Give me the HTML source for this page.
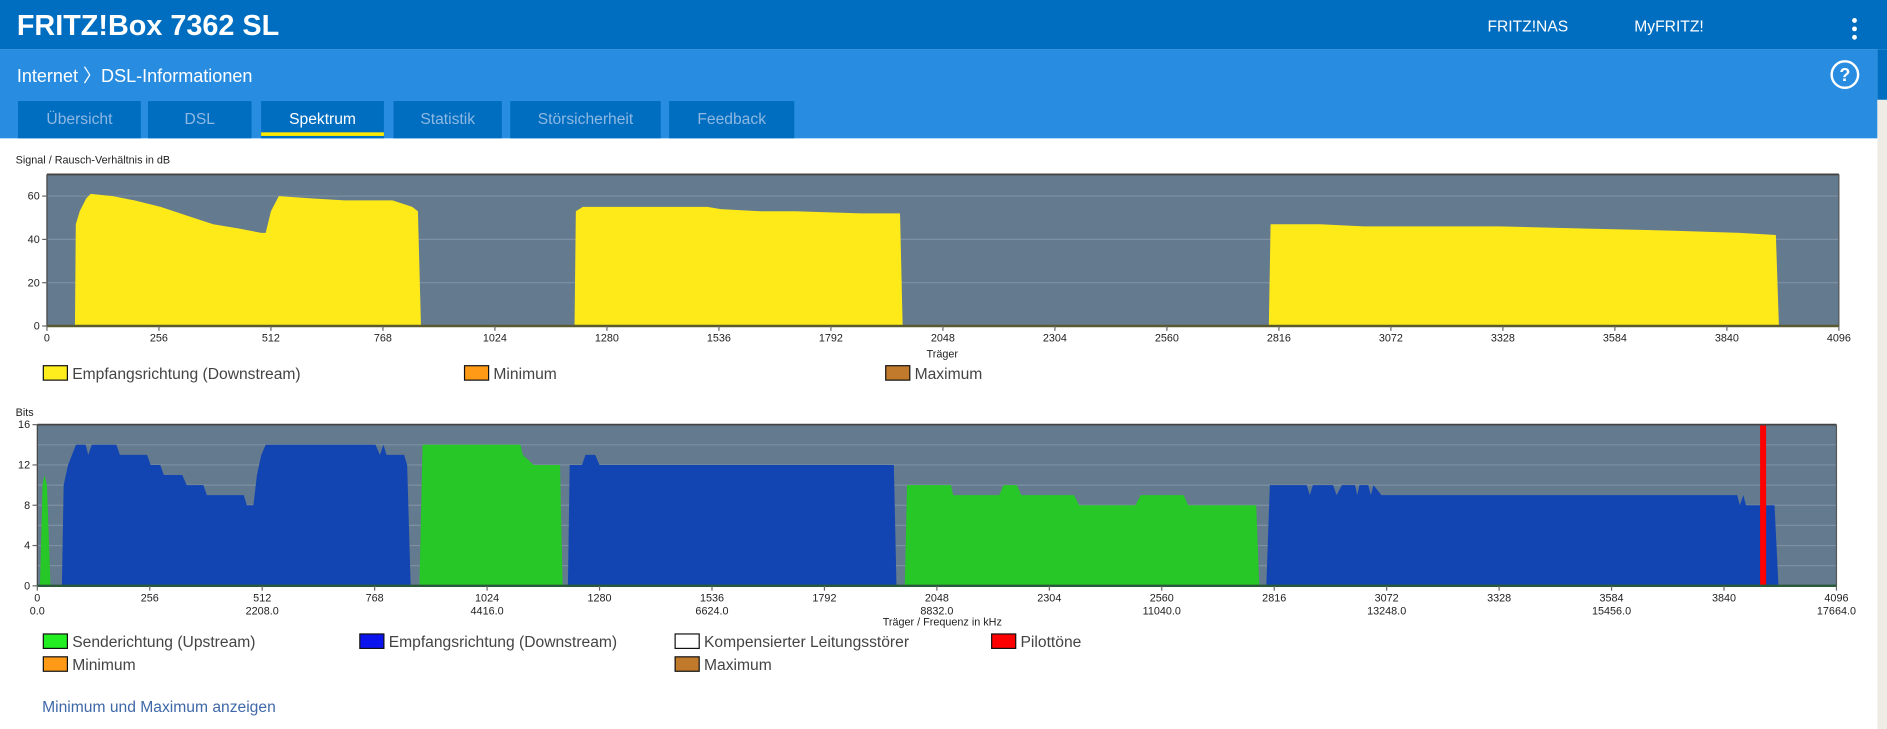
<!DOCTYPE html>
<html><head><meta charset="utf-8"><style>
html,body{margin:0;padding:0;background:#fff;overflow:hidden}
svg{display:block;font-family:"Liberation Sans",sans-serif}
</style></head><body>
<svg id="s" width="1887" height="729" viewBox="0 0 1568 606" preserveAspectRatio="none">
<rect x="0" y="0" width="1568" height="41" fill="#006ec0"/>
<text x="14" y="29" font-size="24" font-weight="bold" fill="#fff" textLength="218" lengthAdjust="spacingAndGlyphs">FRITZ!Box 7362 SL</text>
<text x="1236" y="26" font-size="13" fill="#fff">FRITZ!NAS</text>
<text x="1358" y="26" font-size="13" fill="#fff">MyFRITZ!</text>
<g fill="#fff"><circle cx="1541" cy="17" r="2"/><circle cx="1541" cy="24" r="2"/><circle cx="1541" cy="31" r="2"/></g>
<rect x="0" y="41" width="1560" height="74" fill="#288ce0"/>
<rect x="1560" y="41" width="8" height="42" fill="#006ec0"/>
<rect x="1560" y="83" width="8" height="523" fill="#efebe5"/>
<text x="14" y="68" font-size="15" fill="#fff">Internet 〉DSL-Informationen</text>
<g><circle cx="1533" cy="62" r="11" fill="none" stroke="#fff" stroke-width="2"/><text x="1533" y="67.5" font-size="15" font-weight="bold" fill="#fff" text-anchor="middle">?</text></g>
<g id="tabs"></g>
<text x="13" y="136" font-size="9" fill="#222">Signal / Rausch-Verhältnis in dB</text>
<text x="13" y="346" font-size="9" fill="#222">Bits</text>
<g id="c1"></g><g id="c2"></g>
<g id="leg"></g>
<text x="35" y="592" font-size="13" fill="#3f68a8">Minimum und Maximum anzeigen</text>
</svg>
<script>
// SNR data (carrier, dB) per segment
const snrSeg1 = [[64,0],[66,47],[75,53],[90,59],[100,61],[150,60],[200,58],[260,55],[320,51],[380,47],[440,45],[490,43],[500,43],[512,53],[530,60],[600,59],[680,58],[790,58],[835,55],[848,53],[855,0]];
const snrSeg2 = [[1206,0],[1209,53],[1225,55],[1260,55],[1510,55],[1540,54],[1630,53],[1710,53],[1860,52],[1950,52],[1956,0]];
const snrSeg3 = [[2793,0],[2797,47],[2910,47],[3010,46],[3320,46],[3520,45],[3720,44],[3870,43],[3952,42],[3959,0]];
// Bits data
const upSeg1 = [[6,0],[12,10],[16,11],[22,10],[30,0]];
const upSeg2 = [[870,0],[877,14],[1100,14],[1105,13],[1130,12],[1190,12],[1196,0]];
const upSeg3 = [[1975,0],[1980,10],[2080,10],[2085,9],[2190,9],[2200,10],[2230,10],[2240,9],[2360,9],[2372,8],[2500,8],[2512,9],[2610,9],[2620,8],[2775,8],[2782,0]];
const dnSeg1 = [[56,0],[60,10],[70,12],[88,14],[110,14],[116,13],[124,14],[180,14],[188,13],[250,13],[258,12],[280,12],[288,11],[330,11],[340,10],[378,10],[386,9],[470,9],[477,8],[492,8],[500,11],[510,13],[520,14],[770,14],[780,13],[788,14],[795,13],[835,13],[842,12],[850,0]];
const dnSeg2 = [[1208,0],[1212,12],[1240,12],[1248,13],[1270,13],[1280,12],[1950,12],[1956,0]];
const dnSeg3 = [[2798,0],[2806,10],[2890,10],[2897,9],[2904,10],[2950,10],[2958,9],[2970,10],[3000,10],[3005,9],[3010,10],[3030,10],[3036,9],[3042,10],[3060,9],[3870,9],[3876,8],[3884,9],[3890,8],[3955,8],[3964,0]];
const pilotCarriers = [3929];
const snrTicks = [0,20,40,60];
const bitTicks = [0,4,8,12,16];
const carrierTicks = [0,256,512,768,1024,1280,1536,1792,2048,2304,2560,2816,3072,3328,3584,3840,4096];
const freqLabels = ["0.0","2208.0","4416.0","6624.0","8832.0","11040.0","13248.0","15456.0","17664.0"];
const tabNames = ["Übersicht","DSL","Spektrum","Statistik","Störsicherheit","Feedback"];

const NS="http://www.w3.org/2000/svg";
function mk(tag,attrs,parent){const e=document.createElementNS(NS,tag);for(const k in attrs)e.setAttribute(k,attrs[k]);parent.appendChild(e);return e;}

const tabX=[[15,117],[123,209],[217,319],[327,417],[424,549],[556,660]];
const tg=document.getElementById('tabs');
tabNames.forEach((n,i)=>{
  const g=mk('g',{},tg);
  
  
  mk('rect',{x:tabX[i][0],y:84,width:tabX[i][1]-tabX[i][0],height:31,fill:'#006ec0'},g);
  const t=mk('text',{x:(tabX[i][0]+tabX[i][1])/2,y:103,'font-size':13,'text-anchor':'middle',fill:i==2?'#fff':'#8fb8e2'},g);
  t.textContent=n;
  if(i==2) mk('rect',{x:tabX[i][0],y:110,width:tabX[i][1]-tabX[i][0],height:3,fill:'#ffeb00'},g);
});

function chart(gid,o){
  const g=document.getElementById(gid);
  const X=c=>o.x0+(o.x1-o.x0)*c/4096;
  const Y=v=>o.yb-(o.yb-o.yt)*v/o.vmax;
  mk('rect',{x:o.x0,y:o.yt,width:o.x1-o.x0,height:o.yb-o.yt,fill:'#647a8e'},g);
  for(let v=o.gstep;v<o.vmax;v+=o.gstep){mk('line',{x1:o.x0,x2:o.x1,y1:Y(v),y2:Y(v),stroke:'#7d91a3','stroke-width':1},g);}
  o.series.forEach(s=>{
    s.segs.forEach((seg,i)=>{
      const p=mk('polygon',{points:seg.map(q=>X(q[0]).toFixed(2)+','+Y(q[1]).toFixed(2)).join(' '),fill:s.color},g);
      
      
    });
  });
  if(o.pilots) o.pilots.forEach(c=>{
    const r=mk('rect',{x:X(c)-2.5,y:o.yt,width:5,height:o.yb-o.yt,fill:'#ff0000'},g);
    
    
  });
  mk('line',{x1:o.x0,x2:o.x1,y1:o.yt,y2:o.yt,stroke:'#444','stroke-width':1.5},g);
  mk('line',{x1:o.x1,x2:o.x1,y1:o.yt,y2:o.yb,stroke:'#555','stroke-width':1},g);
  mk('line',{x1:o.x0,x2:o.x0,y1:o.yt,y2:o.yb,stroke:'#444','stroke-width':1},g);
  mk('line',{x1:o.x0,x2:o.x1,y1:o.yb,y2:o.yb,stroke:o.baseCol,'stroke-width':2},g);
  o.yticks.forEach(v=>{
    mk('line',{x1:o.x0-4,x2:o.x0,y1:Y(v),y2:Y(v),stroke:'#666'},g);
    const t=mk('text',{x:o.x0-6,y:Y(v)+3,'font-size':9,'text-anchor':'end',fill:'#222'},g);t.textContent=v;
  });
  carrierTicks.forEach((c,i)=>{
    mk('line',{x1:X(c),x2:X(c),y1:o.yb,y2:o.yb+4,stroke:'#666'},g);
    const t=mk('text',{x:X(c),y:o.yb+13,'font-size':9,'text-anchor':'middle',fill:'#222'},g);t.textContent=c;
    if(o.freq && i%2==0){const f=mk('text',{x:X(c),y:o.yb+24,'font-size':9,'text-anchor':'middle',fill:'#222'},g);f.textContent=freqLabels[i/2];}
  });
  const xt=mk('text',{x:783,y:o.xtY,'font-size':9,'text-anchor':'middle',fill:'#222'},g);xt.textContent=o.xtitle;
  
  
}
chart('c1',{x0:39,x1:1528,yt:145,yb:271,vmax:70,gstep:20,yticks:snrTicks,baseCol:'#5a5a30',
  series:[{name:'snr-downstream',color:'#ffea19',segs:[snrSeg1,snrSeg2,snrSeg3]}],xtitle:'Träger',xtY:297});
chart('c2',{x0:31,x1:1526,yt:353,yb:487,vmax:16,gstep:2,yticks:bitTicks,baseCol:'#2a5a3a',freq:true,
  series:[{name:'upstream',color:'#27c727',segs:[upSeg1,upSeg2,upSeg3]},{name:'downstream',color:'#1245b2',segs:[dnSeg1,dnSeg2,dnSeg3]}],
  pilots:pilotCarriers,xtitle:'Träger / Frequenz in kHz',xtY:520});

const legItems=[[36,310,'#ffee1e','Empfangsrichtung (Downstream)'],[386,310,'#ff9a17','Minimum'],[736,310,'#c17a2c','Maximum'],
 [36,533,'#22ee22','Senderichtung (Upstream)'],[299,533,'#0c14ee','Empfangsrichtung (Downstream)'],[561,533,'#ffffff','Kompensierter Leitungsstörer'],[824,533,'#ff0000','Pilottöne'],
 [36,552,'#ff9a17','Minimum'],[561,552,'#c17a2c','Maximum']];
const lg=document.getElementById('leg');
legItems.forEach(l=>{
  const g=mk('g',{},lg);
  
  
  mk('rect',{x:l[0],y:l[1]-6,width:20,height:12,fill:l[2],stroke:'#111','stroke-width':1},g);
  const t=mk('text',{x:l[0]+24,y:l[1]+5,'font-size':13,fill:'#444'},g);t.textContent=l[3];
});
</script>
</body></html>
